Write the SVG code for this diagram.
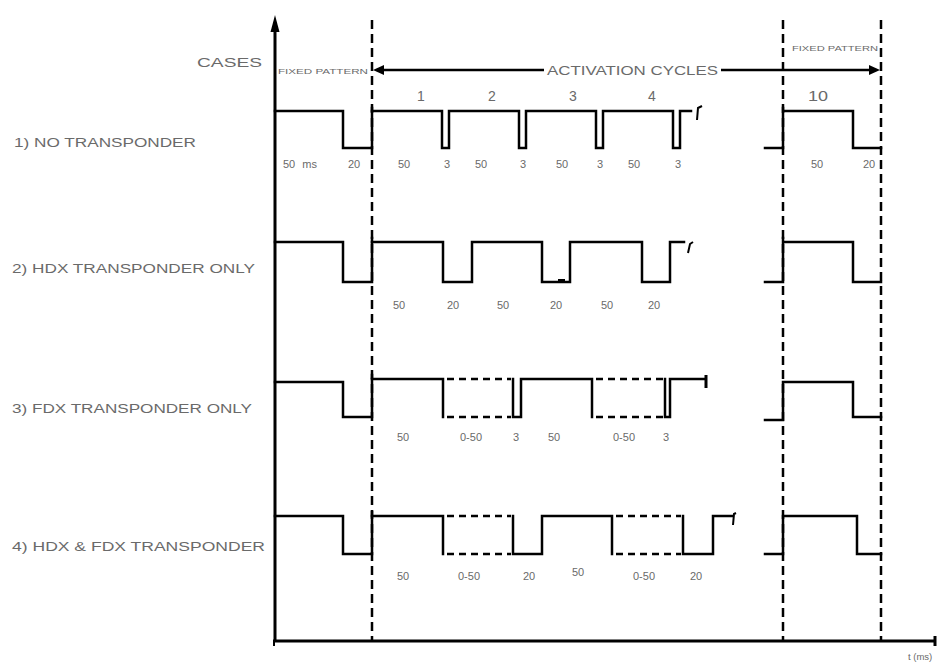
<svg xmlns="http://www.w3.org/2000/svg" width="938" height="665" viewBox="0 0 938 665">
<defs>
<style>
.w{fill:none;stroke:#000;stroke-width:2.5;stroke-linejoin:miter;stroke-linecap:square}
.d{fill:none;stroke:#000;stroke-width:2.5;stroke-dasharray:7 5}
.v{fill:none;stroke:#000;stroke-width:2.5;stroke-dasharray:9 5}
.ax{fill:none;stroke:#000;stroke-width:3}
.t{font-family:"Liberation Sans",Arial,sans-serif;fill:#6a6a6a}
.lab{font-size:12px}
.num{font-size:11px}
.sm{font-size:6.5px}
</style>
</defs>
<rect width="938" height="665" fill="#fff"/>

<g id="axes">
<line class="ax" x1="275" y1="24" x2="275" y2="642"/>
<polygon points="270.5,32 275,15 279.5,32" fill="#000"/>
<line class="ax" x1="273" y1="641" x2="934" y2="641"/>
<line class="ax" x1="935" y1="636" x2="935" y2="646"/>
<line x1="274" y1="641" x2="274" y2="646" stroke="#000" stroke-width="2"/>
<text class="t" x="908" y="660" font-size="9.5">t (ms)</text>
</g>

<g id="dividers">
<line class="v" x1="372" y1="20" x2="372" y2="641"/>
<line class="v" x1="783" y1="20" x2="783" y2="641"/>
<line class="v" x1="881" y1="20" x2="881" y2="641"/>
</g>

<g id="header">
<text class="t" x="197" y="67" font-size="13" textLength="65" lengthAdjust="spacingAndGlyphs">CASES</text>
<text class="t sm" x="278" y="74" textLength="90" lengthAdjust="spacingAndGlyphs">FIXED PATTERN</text>
<text class="t sm" x="792" y="51" textLength="86" lengthAdjust="spacingAndGlyphs">FIXED PATTERN</text>
<line x1="380" y1="70" x2="544" y2="70" stroke="#000" stroke-width="2.5"/>
<polygon points="373,70 384,65 384,75" fill="#000"/>
<text class="t" x="547" y="75" font-size="12" textLength="171" lengthAdjust="spacingAndGlyphs">ACTIVATION CYCLES</text>
<line x1="721" y1="70" x2="872" y2="70" stroke="#000" stroke-width="2.5"/>
<polygon points="880,70 869,65 869,75" fill="#000"/>
<text class="t" x="417" y="101" font-size="14">1</text>
<text class="t" x="488" y="101" font-size="14">2</text>
<text class="t" x="569" y="101" font-size="14">3</text>
<text class="t" x="648" y="101" font-size="14">4</text>
<text class="t" x="808" y="101" font-size="14" textLength="20" lengthAdjust="spacingAndGlyphs">10</text>
</g>

<g id="case1">
<text class="t lab" x="14" y="147" textLength="182" lengthAdjust="spacingAndGlyphs">1)  NO TRANSPONDER</text>
<path class="w" d="M275,111 H343 V148 H372 V108"/>
<path class="w" d="M372,111 H442 V148 H449 V111 H519 V148 H526 V111 H596 V148 H603 V111 H673 V148 H680 V111 H691"/>
<path d="M697,120 L698,108 L702,106" fill="none" stroke="#000" stroke-width="2"/>
<path class="w" d="M765,148 H783 V108 M783,111 H853 V148 H881"/>
<g class="t num">
<text x="283" y="168" word-spacing="4">50 ms</text>
<text x="348" y="168">20</text>
<text x="398" y="168">50</text>
<text x="444" y="168">3</text>
<text x="475" y="168">50</text>
<text x="520" y="168">3</text>
<text x="556" y="168">50</text>
<text x="597" y="168">3</text>
<text x="628" y="168">50</text>
<text x="675" y="168">3</text>
<text x="811" y="168">50</text>
<text x="863" y="168">20</text>
</g>
</g>

<g id="case2">
<text class="t lab" x="12" y="273" textLength="243" lengthAdjust="spacingAndGlyphs">2)  HDX TRANSPONDER ONLY</text>
<path class="w" d="M275,242 H343 V282 H372 V238"/>
<path class="w" d="M372,242 H443 V282 H472 V242 H542 V282 H570 V242 H642 V282 H670 V242 H684"/>
<rect x="558" y="279" width="7" height="3" fill="#000"/>
<path d="M688,253 L690,244 L693,242" fill="none" stroke="#000" stroke-width="2"/>
<path class="w" d="M765,282 H783 V238 M783,242 H853 V282 H881"/>
<g class="t num">
<text x="393" y="309">50</text>
<text x="447" y="309">20</text>
<text x="497" y="309">50</text>
<text x="550" y="309">20</text>
<text x="601" y="309">50</text>
<text x="648" y="309">20</text>
</g>
</g>

<g id="case3">
<text class="t lab" x="12" y="413" textLength="240" lengthAdjust="spacingAndGlyphs">3)  FDX TRANSPONDER ONLY</text>
<path class="w" d="M275,382 H343 V417 H372 V375"/>
<path class="w" d="M372,379 H443 V417"/>
<path class="d" d="M447,379 H511 M447,417 H511 M596,379 H663 M596,417 H663"/>
<path class="w" d="M513,379 V417 H521 V379 H592 V417"/>
<path class="w" d="M665,379 V417 H670 V379 H704"/>
<line x1="706" y1="375" x2="706" y2="388" stroke="#000" stroke-width="3"/>
<path class="w" d="M765,420 H783 V382 M783,382 H853 V417 H881"/>
<g class="t num">
<text x="397" y="441">50</text>
<text x="460" y="441">0-50</text>
<text x="513" y="441">3</text>
<text x="548" y="441">50</text>
<text x="613" y="441">0-50</text>
<text x="663" y="441">3</text>
</g>
</g>

<g id="case4">
<text class="t lab" x="12" y="551" textLength="253" lengthAdjust="spacingAndGlyphs">4)  HDX &amp; FDX  TRANSPONDER</text>
<path class="w" d="M275,516 H343 V554 H372 V512"/>
<path class="w" d="M372,516 H443 V554"/>
<path class="d" d="M447,516 H511 M447,554 H511 M616,516 H681 M616,554 H681"/>
<path class="w" d="M513,516 V554 H542 V516 H612 V554"/>
<path class="w" d="M683,516 V554 H713 V516 H732"/>
<path d="M733,525 L734,514 L736,513" fill="none" stroke="#000" stroke-width="2"/>
<path class="w" d="M765,554 H783 V516 M783,516 H857 V554 H881"/>
<g class="t num">
<text x="397" y="580">50</text>
<text x="458" y="580">0-50</text>
<text x="523" y="580">20</text>
<text x="572" y="576">50</text>
<text x="633" y="580">0-50</text>
<text x="690" y="580">20</text>
</g>
</g>
</svg>
